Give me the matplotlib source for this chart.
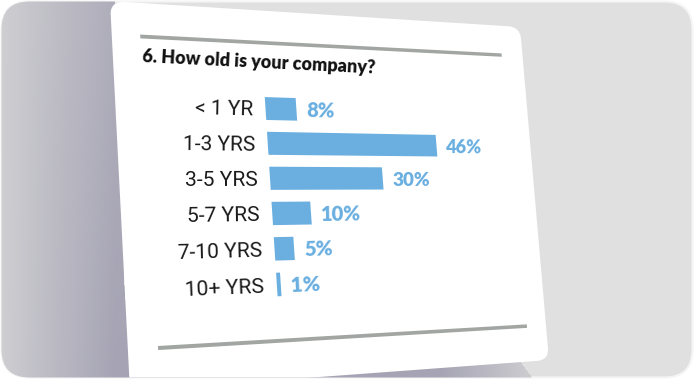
import numpy as np
import matplotlib
matplotlib.use("Agg")
import matplotlib.pyplot as plt
from matplotlib.transforms import Transform, Affine2D
from matplotlib.patches import FancyBboxPatch, Polygon
from matplotlib.path import Path

# data
labels = ["< 1 YR", "1-3 YRS", "3-5 YRS", "5-7 YRS", "7-10 YRS", "10+ YRS"]
values = [8, 46, 30, 10, 5, 1]
title = "6. How old is your company?"

BLUE = "#6aafe0"
W, H = 694, 380

fig = plt.figure(figsize=(W / 100, H / 100), dpi=100, facecolor="white")
ax = fig.add_axes([0, 0, 1, 1])
ax.set_autoscale_on(False)
ax.set_xlim(0, W)
ax.set_ylim(H, 0)
ax.axis("off")


def homography(src, dst):
    A, b = [], []
    for (x, y), (X, Y) in zip(src, dst):
        A.append([x, y, 1, 0, 0, 0, -X * x, -X * y])
        b.append(X)
        A.append([0, 0, 0, x, y, 1, -Y * x, -Y * y])
        b.append(Y)
    h = np.linalg.solve(np.array(A, float), np.array(b, float))
    return np.append(h, 1).reshape(3, 3)


class Persp(Transform):
    input_dims = output_dims = 2
    is_separable = False
    has_inverse = True

    def __init__(self, M):
        super().__init__()
        self.M = M

    def transform_non_affine(self, values):
        v = np.asarray(values, float)
        flat = v.reshape(-1, 2)
        p = np.column_stack([flat, np.ones(len(flat))]) @ self.M.T
        out = p[:, :2] / p[:, 2:3]
        return out.reshape(v.shape)

    def inverted(self):
        return Persp(np.linalg.inv(self.M))


# card: flat rectangle seen in perspective
CW, CH = 420, 390
quad = [(110, 1), (520, 27), (549, 360), (130, 391)]
persp = Persp(homography([(0, 0), (CW, 0), (CW, CH), (0, CH)], quad))
inv = persp.inverted()
card_tf = persp + ax.transData


def local(px, py):
    return inv.transform(np.array([[px, py]], float))[0]


def angle_scale(u, v):
    p = persp.transform(np.array([[u, v], [u + 10, v]], float))
    dx, dy = p[1] - p[0]
    return np.degrees(np.arctan2(-dy, dx)), np.hypot(dx, dy) / 10


# outer frame
frame = FancyBboxPatch((1.5, 1.5), W - 3, H - 4,
                       boxstyle="round,pad=0,rounding_size=28",
                       fc="#e0e0e0", ec="#f5f5f5", lw=1.5, zorder=0)
ax.add_patch(frame)

# shadow to the left / below the card
X, Y = np.meshgrid(np.arange(W) + 0.5, np.arange(H) + 0.5)
light = np.array([208, 208, 211]) / 255
dark = np.array([166, 164, 180]) / 255
mix = np.clip(X / 115, 0, 1) ** 0.9 * (0.8 + 0.2 * Y / H)
mix = mix * (1 - np.clip((X - 440) / 100, 0, 1))
rgb = light + (dark - light) * mix[..., None]
shadow_poly = [(-5, -5), (115, -5), (125, 300), (515, 355), (538, 385), (-5, 385)]
inside = Path(shadow_poly).contains_points(np.column_stack([X.ravel(), Y.ravel()]))
img = np.dstack([rgb, inside.reshape(X.shape).astype(float)])
im = ax.imshow(img, extent=(0, W, H, 0), interpolation="bilinear", zorder=1, aspect="auto")
im.set_clip_path(frame)

card = FancyBboxPatch((0, 0), CW, CH, boxstyle="round,pad=0,rounding_size=14",
                      fc="white", ec="none", transform=card_tf, zorder=2)
ax.add_patch(card)
card.set_clip_path(frame)

# rules above and below
for (x0, y0), (x1, y1) in [((140, 32), (502, 59)), ((158, 347), (527, 327))]:
    a, b = local(x0, y0), local(x1, y1)
    vm = (a[1] + b[1]) / 2
    rule = Polygon([(a[0], vm - 2), (b[0], vm - 2), (b[0], vm + 2), (a[0], vm + 2)],
                   closed=True, fc="#a2a6a2", ec="none", transform=card_tf, zorder=3)
    ax.add_patch(rule)

# title
tu, tv = local(142, 62)
ang, sc = angle_scale(tu, tv)
ax.text(tu, tv, title, transform=card_tf, ha="left", va="baseline",
        rotation=ang - 0.4, rotation_mode="anchor", fontsize=11.6 * sc,
        fontweight="heavy", family=["Lato", "DejaVu Sans"], color="#111111", zorder=4)

# chart coordinates: x = percent, y = row index
r0 = local(265.5, 108.5)
r5 = local(277, 284.5)
b1 = local(267.5, 142.5)
e1 = local(436.5, 148)
sx = (e1[0] - b1[0]) / 46
pitch = (r5[1] - r0[1]) / 5
chart = Affine2D().scale(sx, pitch).translate(r0[0], r0[1])
tf = chart + persp + ax.transData

rows = np.arange(len(values))
ax.barh(rows, values, height=0.66, left=0, color=BLUE, transform=tf, zorder=3)

for i, (lab, val) in enumerate(zip(labels, values)):
    u, v = chart.transform((-3.2, i + 0.22))
    ang, sc = angle_scale(u, v)
    ax.text(-3.2, i + 0.22, lab, transform=tf, ha="right", va="baseline",
            rotation=ang, rotation_mode="anchor", fontsize=14.5 * sc,
            family=["Roboto", "DejaVu Sans"], color="#1a1a1a", zorder=4)
    u, v = chart.transform((val + 2.6, i + 0.23))
    ang, sc = angle_scale(u, v)
    ax.text(val + 2.6, i + 0.23, f"{val}%", transform=tf, ha="left", va="baseline",
            rotation=ang, rotation_mode="anchor", fontsize=14.5 * sc,
            fontweight="heavy", family=["Lato", "DejaVu Sans"], color=BLUE, zorder=4)

fig.savefig("out.png", dpi=100, facecolor="white")
